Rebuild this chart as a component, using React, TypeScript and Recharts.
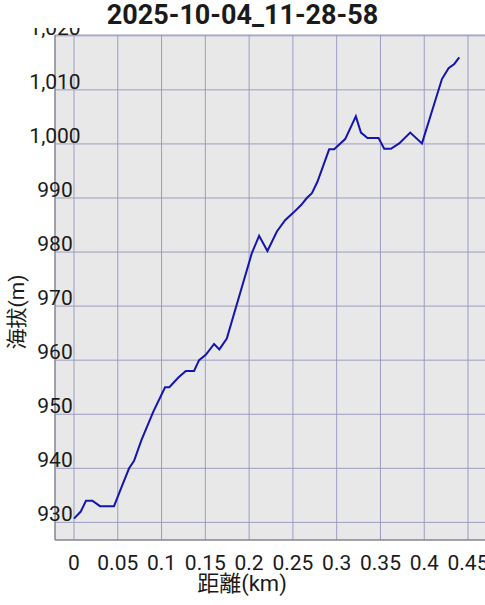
import React from "react";
import { LineChart, Line, XAxis, YAxis, CartesianGrid } from "recharts";

// distance (km) and elevation (m)
const distances = [
  0, 0.0077, 0.0137, 0.021, 0.0297, 0.0457, 0.0545, 0.0629, 0.0686, 0.077,
  0.0906, 0.104, 0.1089, 0.1192, 0.1277, 0.1371, 0.1429, 0.1505, 0.16, 0.166,
  0.1745, 0.2031, 0.2114, 0.2209, 0.2317, 0.2411, 0.2506, 0.2594, 0.2659,
  0.2717, 0.278, 0.2914, 0.2971, 0.3097, 0.3219, 0.3277, 0.3352, 0.3478,
  0.3543, 0.3619, 0.3714, 0.384, 0.3974, 0.4202, 0.4278, 0.4343, 0.44,
];
const elevations = [
  930.7, 932, 934, 934, 933, 933, 936.6, 940, 941.4, 945.2, 950.5, 955, 955,
  956.8, 958, 958, 960, 961, 963, 962, 964, 979.8, 983, 980.2, 983.8, 985.9,
  987.3, 988.7, 990, 990.9, 993, 999, 999, 1000.9, 1005.1, 1002.1, 1001.1,
  1001.1, 999.1, 999.1, 1000.1, 1002.1, 1000.1, 1012, 1014, 1014.8, 1016,
];
const xTicks = [0, 0.05, 0.1, 0.15, 0.2, 0.25, 0.3, 0.35, 0.4, 0.45];
const yTicks = [930, 940, 950, 960, 970, 980, 990, 1000, 1010, 1020];

const title = "2025-10-04_11-28-58";
const FONT = "Roboto, 'Noto Sans CJK JP', sans-serif";

const data = distances.map((d, i) => ({ d, e: elevations[i] }));

const XTick = (props: any) => (
  <text
    x={props.x}
    y={570}
    textAnchor="middle"
    fontFamily={FONT}
    fontSize={21}
    fill="#1a1a1a"
  >
    {String(props.payload.value)}
  </text>
);

const YTick = (props: any) => (
  <text
    x={55}
    y={props.y - 1}
    textAnchor="middle"
    fontFamily={FONT}
    fontSize={21}
    fill="#1a1a1a"
  >
    {props.payload.value.toLocaleString("en-US")}
  </text>
);

export default function App() {
  return (
    <div
      style={{
        position: "absolute",
        left: 0,
        top: 0,
        width: 485,
        height: 605,
        overflow: "hidden",
        background: "#fff",
      }}
    >
      <LineChart
        width={520}
        height={605}
        data={data}
        margin={{ top: 35, right: 30, bottom: 0, left: 0 }}
      >
        <CartesianGrid fill="#e8e8e8" stroke="#9c9cc2" strokeWidth={1} />
        <XAxis
          dataKey="d"
          type="number"
          domain={[-0.0217, 0.4751]}
          ticks={xTicks}
          interval={0}
          allowDataOverflow
          height={65}
          tickLine={false}
          axisLine={{ stroke: "#7a7a7a" }}
          tick={<XTick />}
          label={{
            content: () => (
              <text
                x={242}
                y={591}
                textAnchor="middle"
                fontFamily={FONT}
                fontSize={22}
                fill="#1a1a1a"
              >
                距離(km)
              </text>
            ),
          }}
        />
        <YAxis
          type="number"
          domain={[926.74, 1020.15]}
          ticks={yTicks}
          interval={0}
          allowDataOverflow
          width={55}
          tickLine={false}
          axisLine={{ stroke: "#7a7a7a" }}
          tick={<YTick />}
          label={{
            content: () => (
              <text
                x={16.5}
                y={312}
                transform="rotate(-90 16.5 312)"
                textAnchor="middle"
                dominantBaseline="central"
                fontFamily={FONT}
                fontSize={21}
                fill="#1a1a1a"
              >
                海拔(m)
              </text>
            ),
          }}
        />
        <Line
          dataKey="e"
          type="linear"
          stroke="#1414b0"
          strokeWidth={2}
          dot={false}
          isAnimationActive={false}
        />
      </LineChart>
      <div
        style={{
          position: "absolute",
          left: 0,
          top: 0,
          width: 485,
          height: 28,
          background: "#fff",
          textAlign: "center",
          fontFamily: FONT,
          fontWeight: "bold",
          fontSize: 27,
          lineHeight: "30px",
          color: "#1a1a1a",
        }}
      >
        {title}
      </div>
    </div>
  );
}
